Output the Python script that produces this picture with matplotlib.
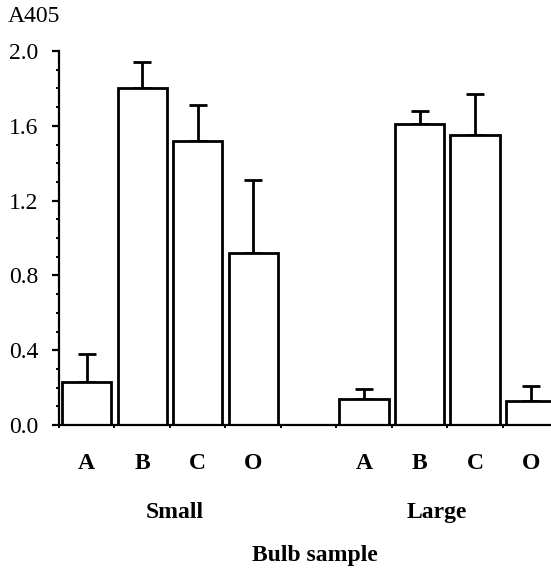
import matplotlib.pyplot as plt
from matplotlib.ticker import MultipleLocator

# mean A405 per bulb sample and the top of each error bar
categories = ["A", "B", "C", "O"]
groups = ["Small", "Large"]
small_means = [0.23, 1.80, 1.52, 0.92]
small_tops = [0.38, 1.94, 1.71, 1.31]
large_means = [0.14, 1.61, 1.55, 0.13]
large_tops = [0.19, 1.68, 1.77, 0.21]

plt.rcParams['font.family'] = ['Liberation Serif', 'DejaVu Serif']
FS = 17

fig = plt.figure(figsize=(5.51, 5.77), dpi=100)
ax = fig.add_axes([0.107, 0.2634, 0.9065, 0.6482])

small_x = [i + 0.5 for i in range(4)]
large_x = [i + 5.5 for i in range(4)]

for xs, means, tops in [(small_x, small_means, small_tops),
                        (large_x, large_means, large_tops)]:
    ax.bar(xs, means, width=0.89, color='white', edgecolor='black', linewidth=2.0, zorder=2)
    up = [t - m for t, m in zip(tops, means)]
    ax.errorbar(xs, means, yerr=[[0] * len(up), up], fmt='none', ecolor='black',
                elinewidth=2.0, capsize=6.5, capthick=2.0, zorder=1)

ax.set_xlim(0, 9)
ax.set_ylim(0, 2.0)
ax.spines['top'].set_visible(False)
ax.spines['right'].set_visible(False)
ax.spines['left'].set_linewidth(1.6)
ax.spines['bottom'].set_linewidth(1.6)

ax.yaxis.set_major_locator(MultipleLocator(0.4))
ax.yaxis.set_minor_locator(MultipleLocator(0.1))
ax.set_yticklabels([f"{v:.1f}" for v in ax.get_yticks()])
ax.tick_params(axis='y', which='major', length=5, width=1.6, pad=10, labelsize=FS)
ax.tick_params(axis='y', which='minor', length=2.5, width=1.4)

ax.set_xticks(range(10))
ax.set_xticklabels([])
ax.tick_params(axis='x', which='major', length=2.5, width=1.4)

trans = ax.get_xaxis_transform()
for xs in (small_x, large_x):
    for x, c in zip(xs, categories):
        ax.text(x, -0.1016, c, transform=trans, ha='center', va='center',
                fontsize=FS, fontweight='bold')

ax.text(2.09, -0.235, groups[0], transform=trans, ha='center', va='center',
        fontsize=FS, fontweight='bold')
ax.text(6.81, -0.235, groups[1], transform=trans, ha='center', va='center',
        fontsize=FS, fontweight='bold')
ax.text(4.61, -0.348, "Bulb sample", transform=trans, ha='center', va='center',
        fontsize=FS, fontweight='bold')

fig.text(8 / 551, 1 - 16 / 577, "A405", ha='left', va='center', fontsize=FS)

fig.savefig("out.png", dpi=100)
